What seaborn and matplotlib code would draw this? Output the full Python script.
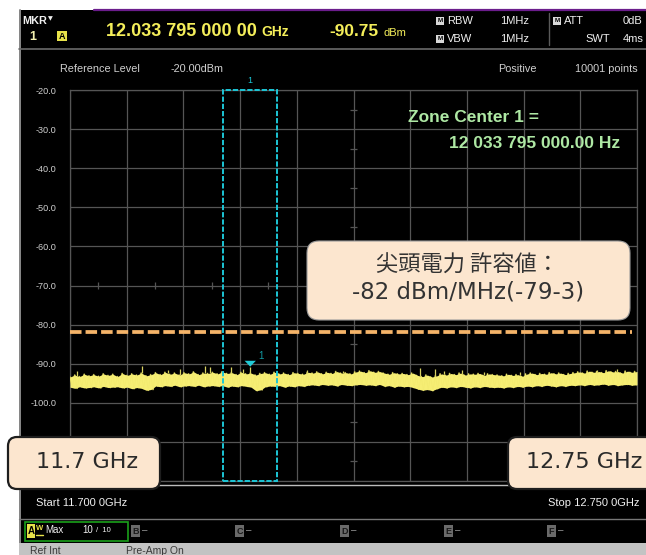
import numpy as np
import matplotlib
matplotlib.use("Agg")
import matplotlib.pyplot as plt
from matplotlib.patches import Rectangle, FancyBboxPatch, Polygon
from matplotlib.lines import Line2D
import seaborn as sns

# ---- sweep / display settings ----
START_GHZ = 11.7
STOP_GHZ = 12.75
REF_LEVEL_DBM = -20.0
DB_PER_DIV = 10.0
N_DIV = 10
LIMIT_DBM = -82.0
ZONE_CENTER_GHZ = 12.033795
ZONE_SPAN_GHZ = 0.100
MARKER_GHZ = 12.033795
MARKER_DBM = -90.75

y_tick_values = [-20, -30, -40, -50, -60, -70, -80, -90, -100, -110, -120]
y_tick_labels = ["-20.0", "-30.0", "-40.0", "-50.0", "-60.0", "-70.0",
                 "-80.0", "-90.0", "-100.0", "-110.0", "-120.0"]

# upper / lower edge of the noise floor across the sweep (dBm)
noise_top = [
    -93.4, -92.9, -93.3, -92.7, -93.1,
    -92.8, -93.2, -92.6, -93.0, -92.7, -93.3,
    -92.5, -93.0, -92.6, -92.9, -92.4, -93.1, -92.8,
    -92.3, -92.8, -92.2, -92.7, -92.4, -92.9, -92.3, -92.6, -92.1, -92.8, -92.4, -92.5, -92.2,
    -92.6, -92.1, -92.5, -92.3, -92.8, -92.2, -92.6, -92.4, -92.9, -92.5,
    -92.3, -92.7, -92.2, -92.6, -92.4, -92.8, -92.3, -92.5, -92.7, -92.2,
    -92.4, -92.1, -92.6, -92.2, -92.5, -92.0, -92.4, -92.3, -92.6, -92.1,
    -91.9, -92.3, -91.8, -92.2, -92.0,
    -92.4, -92.7, -92.3, -92.6, -92.5, -92.8, -92.4,
    -93.0, -93.3, -92.9, -93.4, -93.1,
    -92.6, -92.9, -92.5, -92.8, -92.4, -92.9, -92.6, -92.7, -92.5, -93.0, -92.6, -92.8,
    -92.9, -93.1, -92.7, -93.0, -92.8, -93.2,
    -92.6, -92.4, -92.8, -92.5, -92.7, -92.3, -92.6, -92.4, -92.8, -92.5, -92.3,
    -92.1, -92.4, -91.9, -92.2, -92.0, -92.3, -91.8, -92.1, -92.0, -92.4, -91.9, -92.2, -92.0,
]
noise_bottom = [
    -96.0, -96.3, -95.9, -96.2, -96.1,
    -95.9, -96.2, -95.8, -96.1, -96.0, -95.9,
    -96.2, -96.0, -96.4, -96.1, -96.3, -96.8, -96.6,
    -95.7, -95.9, -95.6, -95.8, -95.5, -95.9, -95.7, -95.6, -95.8, -95.5, -95.9, -95.7, -95.6,
    -95.8, -95.6, -96.0, -95.7, -95.9, -95.6, -95.8, -96.0, -96.9, -96.7,
    -95.9, -95.7, -95.8, -95.6, -96.0, -95.7, -95.9, -95.6, -95.8, -95.5,
    -95.4, -95.6, -95.3, -95.5, -95.4, -95.7, -95.3, -95.5, -95.6, -95.4,
    -95.3, -95.5, -95.4, -95.6, -95.3,
    -95.8, -95.6, -96.0, -95.7, -95.9, -95.8, -96.1,
    -96.5, -96.8, -96.6, -96.9, -96.4,
    -96.0, -96.2, -95.9, -96.1, -95.8, -96.0, -96.2, -95.9, -96.1, -95.8, -96.0, -96.1,
    -96.0, -96.2, -95.9, -96.1, -95.8, -96.0,
    -95.7, -95.9, -95.6, -95.8, -95.5, -95.7, -95.9, -95.6, -95.8, -95.5, -95.6,
    -95.4, -95.6, -95.3, -95.5, -95.4, -95.2, -95.5, -95.3, -95.6, -95.4, -95.3, -95.5, -95.4,
]

# isolated peaks rising above the noise floor
spike_ghz = [11.713, 11.833, 11.881, 11.904, 11.950, 11.959, 11.998, 12.020,
             12.139, 12.206, 12.348, 12.376, 12.393, 12.426, 12.467, 12.533,
             12.676, 12.713, 12.735]
spike_dbm = [-91.8, -90.6, -91.6, -91.4, -90.6, -90.9, -90.8, -91.4,
             -91.6, -91.8, -91.2, -91.4, -91.8, -91.6, -92.0, -92.0,
             -91.6, -91.4, -91.8]

W, H = 646, 555


def fx(px):
    return px / W


def fy(py):
    return 1 - py / H


sns.set_theme(style="dark")
plt.rcParams['font.family'] = ['Liberation Sans', 'DejaVu Sans']
plt.rcParams['lines.scale_dashes'] = False

fig = plt.figure(figsize=(W / 100, H / 100), dpi=100, facecolor='white')


def add_box(x0, y0, x1, y1, r, fc, ec, lw, z):
    p = FancyBboxPatch((x0 / 100, (H - y1) / 100), (x1 - x0) / 100, (y1 - y0) / 100,
                       boxstyle=f"round,pad=0,rounding_size={r / 100}",
                       transform=fig.dpi_scale_trans, fc=fc, ec=ec, lw=lw, zorder=z)
    fig.add_artist(p)


def add_rect(x0, y0, x1, y1, fc, ec='none', lw=0, z=-5):
    fig.add_artist(Rectangle((fx(x0), fy(y1)), fx(x1) - fx(x0), fy(y0) - fy(y1),
                             transform=fig.transFigure, fc=fc, ec=ec, lw=lw, zorder=z))


def add_hline(y, x0, x1, color, lw, z=-4):
    fig.add_artist(Line2D([fx(x0), fx(x1)], [fy(y), fy(y)], color=color, lw=lw, zorder=z))


def add_vline(x, y0, y1, color, lw, z=-4):
    fig.add_artist(Line2D([fx(x), fx(x)], [fy(y0), fy(y1)], color=color, lw=lw, zorder=z))


def txt(x, y, s, **kw):
    kw.setdefault('va', 'center')
    kw.setdefault('ha', 'left')
    fig.text(fx(x), fy(y), s, **kw)


# ---- instrument screen background ----
add_rect(18.5, 10, 660, 560, 'black', z=-10)
add_vline(19.5, 10, 555, '#8a8a8a', 1.4)
add_hline(9.5, 94, 646, '#6b1d8c', 1.6)

# ---- header ----
WHITE = '#f0f0f0'
YEL = '#f4ee5a'
txt(22, 21, "MKR", color=WHITE, fontsize=7.8, weight='bold')
txt(47.5, 19, "\u25BC", color=WHITE, fontsize=4.5, family='DejaVu Sans')
txt(29, 37, "1", color='#f3f0b0', fontsize=9, weight='bold')
add_rect(57, 31, 67, 41, '#e8e24a', z=2)
txt(62, 36.5, "A", color='black', fontsize=6.5, weight='bold', ha='center')
txt(106, 31, "12.033 795 000 00", color=YEL, fontsize=13, weight='bold')
txt(261, 32.5, "GHz", color=YEL, fontsize=10, weight='bold')
txt(329, 31, "-90.75", color=YEL, fontsize=12.4, weight='bold')
txt(384, 33, "dBm", color=YEL, fontsize=8)
for row_y, label, val in [(21, "RBW", "1MHz"), (39, "VBW", "1MHz")]:
    add_rect(436, row_y - 4, 444, row_y + 4, '#d8d8d8', z=2)
    txt(440, row_y, "M", color='black', fontsize=4.5, weight='bold', ha='center')
    txt(447, row_y, label, color=WHITE, fontsize=8)
    txt(529, row_y, val, color=WHITE, fontsize=8, ha='right')
add_vline(549, 13, 45, '#5a5a5a', 1)
add_rect(553, 17, 561, 25, '#d8d8d8', z=2)
txt(557, 21, "M", color='black', fontsize=4.5, weight='bold', ha='center')
txt(564, 21, "ATT", color=WHITE, fontsize=8)
txt(585, 39, "SWT", color=WHITE, fontsize=8)
txt(623, 21, "0dB", color=WHITE, fontsize=8)
txt(623, 39, "4ms", color=WHITE, fontsize=8)
add_hline(49, 18.5, 646, '#6a6a6a', 1.2)

txt(60, 69, "Reference Level", color='#d0d0d0', fontsize=7.8)
txt(171, 69, "-20.00dBm", color='#d0d0d0', fontsize=7.8)
txt(498, 69, "Positive", color='#d0d0d0', fontsize=7.8)
txt(638, 69, "10001 points", color='#d0d0d0', fontsize=7.8, ha='right')

# ---- trace graticule ----
ax = fig.add_axes([fx(70), fy(481), (637 - 70) / W, (481 - 90) / H])
ax.set_facecolor('black')
ax.set_xlim(START_GHZ, STOP_GHZ)
ax.set_ylim(REF_LEVEL_DBM - N_DIV * DB_PER_DIV, REF_LEVEL_DBM)
ax.set_xticks(np.linspace(START_GHZ, STOP_GHZ, N_DIV + 1))
ax.set_yticks(y_tick_values)
ax.set_yticklabels(y_tick_labels)
ax.tick_params(axis='x', labelbottom=False, length=0)
ax.tick_params(axis='y', length=0, pad=10, labelsize=6.6, labelcolor='#cfcfcf')
ax.grid(True, color='#555555', lw=0.9)
for s in ax.spines.values():
    s.set_color('#555555')
    s.set_linewidth(0.9)
ax.set_xlabel("")
ax.set_ylabel("")

# small sub-division marks on the centre lines
div_ghz = (STOP_GHZ - START_GHZ) / N_DIV
x_mid = START_GHZ + div_ghz * N_DIV / 2
y_mid = REF_LEVEL_DBM - DB_PER_DIV * N_DIV / 2
half_steps_y = [REF_LEVEL_DBM - (k + 0.5) * DB_PER_DIV for k in range(N_DIV)]
half_steps_x = [START_GHZ + (k + 0.5) * div_ghz for k in range(N_DIV)]
ax.hlines(half_steps_y, x_mid - 0.0065, x_mid + 0.0065, color='#555555', lw=0.9)
ax.vlines(half_steps_x, y_mid - 0.9, y_mid + 0.9, color='#555555', lw=0.9)

# ---- measured trace ----
n = len(noise_top)
pair_ghz = np.linspace(START_GHZ, STOP_GHZ, n)
zig_ghz = np.linspace(START_GHZ, STOP_GHZ, 2 * n)
zig_dbm = np.empty(2 * n)
zig_dbm[0::2] = noise_top
zig_dbm[1::2] = noise_bottom
sns.lineplot(x=zig_ghz, y=zig_dbm, ax=ax, color='#8f8a3c', lw=1.3,
             sort=False, estimator=None, zorder=3)
ax.fill_between(pair_ghz, noise_bottom, noise_top, color='#f6ee74', lw=0, zorder=3)
sns.lineplot(x=zig_ghz, y=zig_dbm, ax=ax, color='#f3eb70', lw=0.6,
             sort=False, estimator=None, zorder=3)
spike_base = np.interp(spike_ghz, pair_ghz, noise_top)
ax.vlines(spike_ghz, spike_base, spike_dbm, color='#d9d262', lw=0.9, zorder=3)
ax.vlines([MARKER_GHZ], np.interp([MARKER_GHZ], pair_ghz, noise_top), [MARKER_DBM],
          color='#d9d262', lw=0.9, zorder=3)

# zone window
ylo = REF_LEVEL_DBM - N_DIV * DB_PER_DIV
ax.add_patch(Rectangle((ZONE_CENTER_GHZ - ZONE_SPAN_GHZ / 2, ylo), ZONE_SPAN_GHZ,
                       REF_LEVEL_DBM - ylo, fill=False, ec='#1cc6d6', lw=1.4,
                       linestyle=(0, (3.8, 1.4)), zorder=4, clip_on=False))
ax.text(ZONE_CENTER_GHZ, REF_LEVEL_DBM + 1.2, "1", color='#1cc6d6', fontsize=6.5,
        ha='center', va='bottom')

# limit line
ax.axhline(LIMIT_DBM, xmin=0, xmax=0.991, color='#f5b469', lw=2.7,
           dashes=(8.3, 2.9), zorder=5)

# marker 1
tri_w, tri_h = 0.0105, 1.5
ax.add_patch(Polygon([(MARKER_GHZ - tri_w, MARKER_DBM + tri_h),
                      (MARKER_GHZ + tri_w, MARKER_DBM + tri_h),
                      (MARKER_GHZ, MARKER_DBM)], closed=True, fc='#22ccd8', ec='none', zorder=6))
ax.annotate("1", (MARKER_GHZ, MARKER_DBM), xytext=(6, 8), textcoords='offset points',
            color='#139ca4', fontsize=7, ha='left', va='center')

# zone readout
txt(408, 117, "Zone Center 1 =", color='#aee8a4', fontsize=12.5, weight='bold')
txt(620, 143, "12 033 795 000.00 Hz", color='#aee8a4', fontsize=12.5, weight='bold', ha='right')

# ---- callouts ----
PEACH = '#fce6cf'
add_box(307, 241, 630, 320, 12, PEACH, '#9a9a9a', 0.8, 8)
txt(468, 265, "尖頭電力 許容値：", color='#333333', fontsize=16,
    family=['Noto Sans CJK JP', 'DejaVu Sans'], ha='center', zorder=9)
txt(468, 292, "-82 dBm/MHz(-79-3)", color='#333333', fontsize=16.5,
    family='DejaVu Sans', ha='center', zorder=9)

add_box(8, 437, 160, 489, 9, PEACH, '#1e1e1e', 1.6, 8)
txt(87, 462, "11.7 GHz", color='#2a2a2a', fontsize=16, family='DejaVu Sans',
    ha='center', zorder=9)
add_box(508, 437, 680, 489, 9, PEACH, '#1e1e1e', 1.6, 8)
txt(526, 462, "12.75 GHz", color='#2a2a2a', fontsize=16, family='DejaVu Sans',
    ha='left', zorder=9)

# ---- footer ----
add_hline(485, 18.5, 646, '#bdbdbd', 1.0)
txt(36, 503, "Start 11.700 0GHz", color=WHITE, fontsize=8)
txt(640, 503, "Stop 12.750 0GHz", color=WHITE, fontsize=8, ha='right')
add_hline(518.5, 18.5, 646, '#777777', 1.0)

add_rect(25, 522, 128, 541, 'none', ec='#1aa01a', lw=1.2, z=2)
add_rect(27, 524, 35, 538, '#e8e24a', z=2)
txt(31, 531, "A", color='black', fontsize=7, weight='bold', ha='center')
txt(36, 528, "W", color='#e8e24a', fontsize=5.5, weight='bold')
add_hline(535, 36, 43, '#e8e24a', 1.0, z=2)
txt(45, 530, "Max", color=WHITE, fontsize=7)
txt(82, 530, "10", color=WHITE, fontsize=7)
txt(96, 531, "/  10", color=WHITE, fontsize=5.5)
for x0, letter in [(131, "B"), (235, "C"), (340, "D"), (444, "E"), (547, "F")]:
    add_rect(x0, 525, x0 + 9, 537, '#6a6a6a', z=2)
    txt(x0 + 4.5, 531, letter, color='#1a1a1a', fontsize=6.5, weight='bold', ha='center')
    txt(x0 + 11, 530, "\u2013", color='#9a9a9a', fontsize=7)

add_rect(18.5, 543, 660, 560, '#c3c3c3', z=-3)
txt(30, 546, "Ref Int", color='#3a3a3a', fontsize=7.5, va='top')
txt(126, 546, "Pre-Amp On", color='#3a3a3a', fontsize=7.5, va='top')

fig.savefig("out.png", dpi=100, facecolor=fig.get_facecolor())
